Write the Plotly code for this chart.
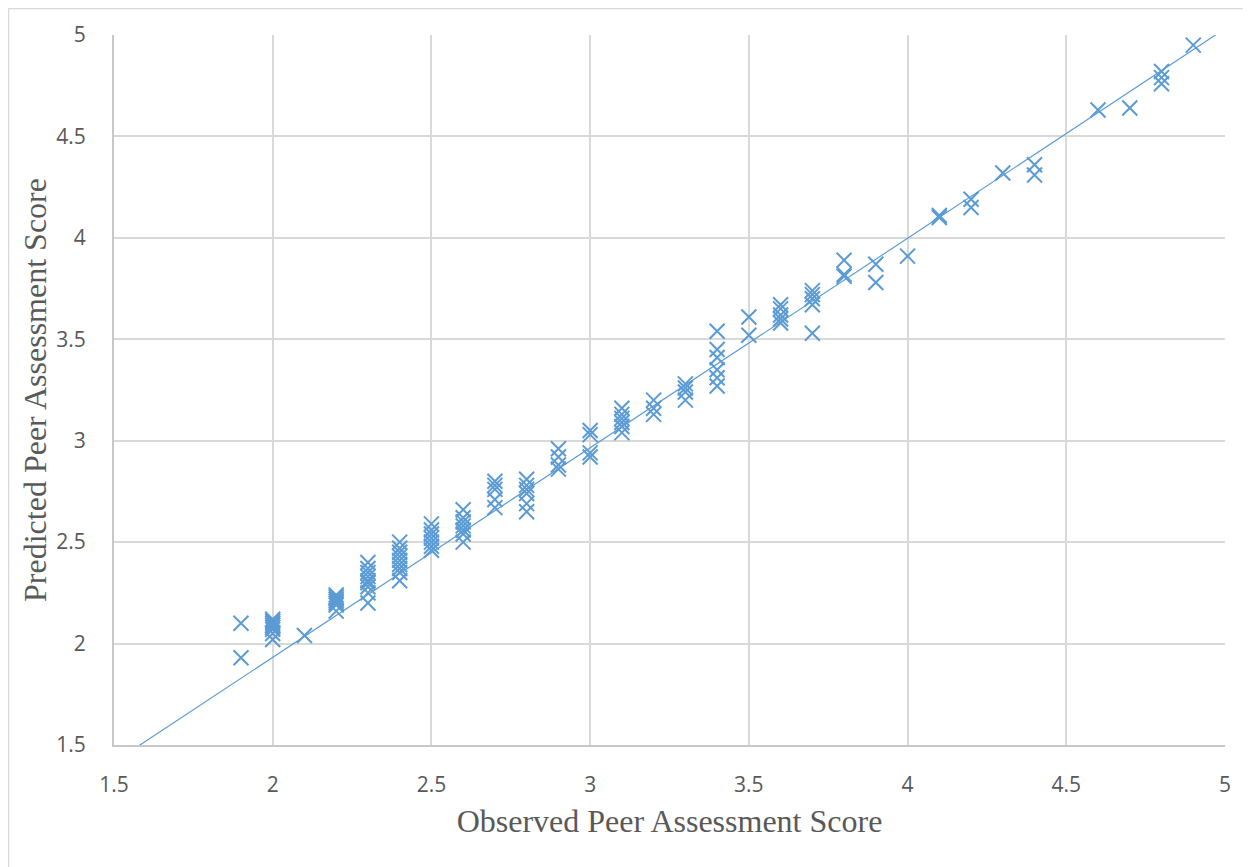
import numpy as np
import plotly.graph_objects as go

# Observed scores (x) and predicted scores (y)
observed = (
    [1.9, 1.9]
    + [2.0] * 8
    + [2.1]
    + [2.2] * 7
    + [2.3] * 9
    + [2.4] * 9
    + [2.5] * 7
    + [2.6] * 7
    + [2.7] * 5
    + [2.8] * 6
    + [2.9] * 4
    + [3.0] * 4
    + [3.1] * 6
    + [3.2] * 3
    + [3.3] * 4
    + [3.4] * 6
    + [3.5] * 2
    + [3.6] * 5
    + [3.7] * 5
    + [3.8] * 3
    + [3.9] * 2
    + [4.0]
    + [4.1] * 2
    + [4.2] * 2
    + [4.3]
    + [4.4] * 2
    + [4.6]
    + [4.7]
    + [4.8] * 3
    + [4.9]
)
predicted = (
    [2.10, 1.93]
    + [2.12, 2.11, 2.10, 2.09, 2.08, 2.07, 2.05, 2.02]
    + [2.04]
    + [2.24, 2.23, 2.22, 2.21, 2.20, 2.19, 2.16]
    + [2.40, 2.37, 2.35, 2.33, 2.31, 2.30, 2.28, 2.25, 2.20]
    + [2.50, 2.47, 2.45, 2.43, 2.41, 2.39, 2.37, 2.35, 2.31]
    + [2.59, 2.56, 2.54, 2.52, 2.50, 2.48, 2.46]
    + [2.66, 2.62, 2.60, 2.58, 2.56, 2.54, 2.50]
    + [2.80, 2.78, 2.76, 2.71, 2.67]
    + [2.81, 2.78, 2.76, 2.74, 2.69, 2.65]
    + [2.96, 2.92, 2.88, 2.86]
    + [3.05, 3.03, 2.94, 2.92]
    + [3.16, 3.13, 3.11, 3.09, 3.07, 3.04]
    + [3.20, 3.16, 3.13]
    + [3.28, 3.26, 3.24, 3.20]
    + [3.54, 3.45, 3.41, 3.35, 3.31, 3.27]
    + [3.61, 3.52]
    + [3.67, 3.65, 3.62, 3.60, 3.58]
    + [3.74, 3.72, 3.70, 3.67, 3.53]
    + [3.89, 3.82, 3.81]
    + [3.87, 3.78]
    + [3.91]
    + [4.10, 4.11]
    + [4.19, 4.15]
    + [4.32]
    + [4.36, 4.31]
    + [4.63]
    + [4.64]
    + [4.82, 4.79, 4.76]
    + [4.95]
)

# Linear trendline
trend_slope = 1.033
trend_intercept = -0.134

tick_vals = [1.5, 2, 2.5, 3, 3.5, 4, 4.5, 5]
tick_text = ["1.5", "2", "2.5", "3", "3.5", "4", "4.5", "5"]

x_range = [1.5, 5]
y_range = [1.5, 5]

blue = "#5B9BD5"
grid = "#D9D9D9"
text_col = "#595959"

trend_x = np.array(x_range)
trend_y = trend_slope * trend_x + trend_intercept

fig = go.Figure()
fig.add_trace(go.Scatter(
    x=trend_x, y=trend_y, mode="lines",
    line=dict(color=blue, width=1.2),
    hoverinfo="skip", showlegend=False,
))
fig.add_trace(go.Scatter(
    x=observed, y=predicted, mode="markers",
    marker=dict(symbol="x-thin", size=15, color=blue,
                line=dict(color=blue, width=2)),
    showlegend=False,
))

# figure is drawn 8px inside the page (body margin)
W, H = 1251, 867
L, T = 106, 27
R = W - 1217
B = H - 737
pw = W - L - R
ph = H - T - B

def px_to_paper_x(px):
    return (px - L) / pw

def px_to_paper_y(py):
    return (H - B - py) / ph

tick_font = dict(family="Open Sans", size=21, color=text_col)
title_font = dict(family="Liberation Serif", size=32, color=text_col)

fig.update_layout(
    width=W, height=H,
    margin=dict(l=L, r=R, t=T, b=B),
    paper_bgcolor="white", plot_bgcolor="white",
    font=dict(family="Open Sans", size=21, color=text_col),
    xaxis=dict(
        range=x_range, tickvals=tick_vals, ticktext=tick_text,
        showgrid=True, gridcolor=grid, gridwidth=2,
        showline=True, linecolor="#C8C8C8", linewidth=2,
        zeroline=False, ticks="", ticklabelstandoff=20,
        tickfont=tick_font,
        title=dict(text="Observed Peer Assessment Score",
                   font=title_font, standoff=12),
    ),
    yaxis=dict(
        range=y_range, tickvals=tick_vals, ticktext=tick_text,
        showgrid=True, gridcolor=grid, gridwidth=2,
        showline=True, linecolor="#C8C8C8", linewidth=2,
        zeroline=False, ticks="", ticklabelstandoff=22,
        tickfont=tick_font,
        title=dict(text="Predicted Peer Assessment Score",
                   font=title_font, standoff=0),
    ),
    shapes=[
        dict(type="line", xref="paper", yref="paper",
             x0=px_to_paper_x(0.5), x1=px_to_paper_x(0.5),
             y0=px_to_paper_y(0.5), y1=px_to_paper_y(H),
             line=dict(color="#D9D9D9", width=1.5), layer="below"),
        dict(type="line", xref="paper", yref="paper",
             x0=px_to_paper_x(0.5), x1=px_to_paper_x(W),
             y0=px_to_paper_y(0.5), y1=px_to_paper_y(0.5),
             line=dict(color="#D9D9D9", width=1.5), layer="below"),
    ],
)

fig.write_html("out.html")
